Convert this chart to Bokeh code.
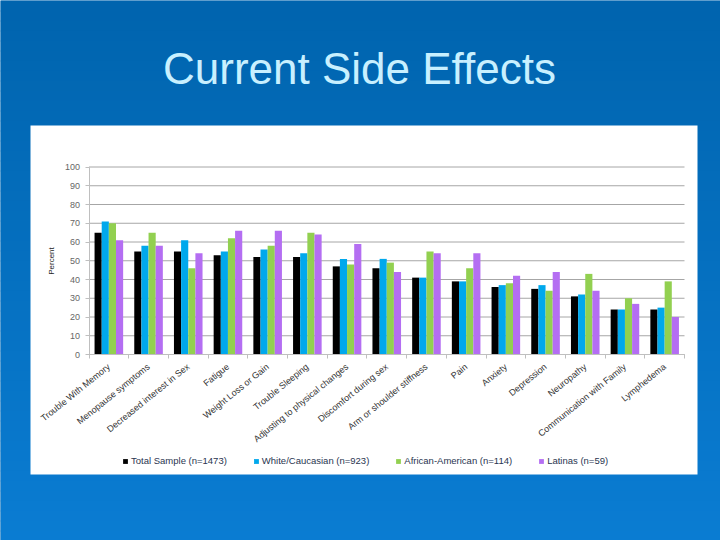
from bokeh.plotting import figure
from bokeh.models import (Range1d, FixedTicker, Label, Legend, LegendItem,
                          ColumnDataSource, BoxAnnotation, LinearAxis)
from bokeh.embed import file_html
from bokeh.resources import INLINE

# ---------------- data ----------------
categories = [
    "Trouble With Memory", "Menopause symptoms", "Decreased interest in Sex",
    "Fatigue", "Weight Loss or Gain", "Trouble Sleeping",
    "Adjusting to physical changes", "Discomfort during sex",
    "Arm or shoulder stiffness", "Pain", "Anxiety", "Depression",
    "Neuropathy", "Communication with Family", "Lymphedema",
]
total_sample = [65, 55, 55, 53, 52, 52, 47, 46, 41, 39, 36, 35, 31, 24, 24]
white_caucasian = [71, 58, 61, 55, 56, 54, 51, 51, 41, 39, 37, 37, 32, 24, 25]
african_american = [70, 65, 46, 62, 58, 65, 48, 49, 55, 46, 38, 34, 43, 30, 39]
latinas = [61, 58, 54, 66, 66, 64, 59, 44, 54, 54, 42, 44, 34, 27, 20]
series_names = ["Total Sample (n=1473)", "White/Caucasian (n=923)",
                "African-American (n=114)", "Latinas (n=59)"]
y_ticks = [0, 10, 20, 30, 40, 50, 60, 70, 80, 90, 100]
title_text = "Current Side Effects"
y_label = "Percent"

# ---------------- styling / layout ----------------
colors = ["#000000", "#00a8ec", "#92d050", "#b46ef2"]
FONT = "Liberation Sans"
W, H = 720, 540
FL, FR, FT, FB = 88.5, 684.0, 166.5, 354.0     # plot area (pixels on the slide)
NCAT = len(categories)

def dx(px):   # slide pixel -> x data
    return 0.5 + (px - FL) * NCAT / (FR - FL)

def dy(py):   # slide pixel -> y data
    return (FB - py) * 100.0 / (FB - FT)

p = figure(width=W, height=H, output_backend="svg", toolbar_location=None,
           x_range=Range1d(dx(0), dx(W)), y_range=Range1d(dy(H), dy(0)),
           x_axis_type=None, y_axis_type=None,
           min_border_left=0, min_border_right=0, min_border_top=0, min_border_bottom=0)
p.outline_line_color = None
p.border_fill_color = "#0066b0"
p.background_fill_color = "#0066b0"
p.grid.visible = False

# slide background gradient
N = 54
c0 = (0x00, 0x64, 0xae)
c1 = (0x0a, 0x7c, 0xd2)
for i in range(N):
    t = i / (N - 1)
    col = "#%02x%02x%02x" % tuple(int(round(a + (b - a) * t)) for a, b in zip(c0, c1))
    p.add_layout(BoxAnnotation(top=dy(i * H / N), bottom=dy((i + 1) * H / N + 1),
                               fill_color=col, fill_alpha=1, line_color=None,
                               level="image"))

# white chart panel
p.add_layout(BoxAnnotation(left=dx(30), right=dx(697), top=dy(125), bottom=dy(474),
                           fill_color="white", fill_alpha=1, line_color=None,
                           level="image"))

# slide title
p.add_layout(Label(x=dx(359), y=dy(68), text=title_text, text_align="center",
                   text_baseline="alphabetic", text_font=FONT,
                   text_font_size="44px", text_color="#c8f0ff"))

positions = list(range(1, NCAT + 1))

# horizontal gridlines
p.segment(x0=[0.5] * len(y_ticks), x1=[NCAT + 0.5] * len(y_ticks), y0=y_ticks, y1=y_ticks,
          line_color="#a6a6a6", line_width=1, level="underlay")

# bars
bar_w = 0.18
offsets = [-1.5 * bar_w, -0.5 * bar_w, 0.5 * bar_w, 1.5 * bar_w]
series = [total_sample, white_caucasian, african_american, latinas]
renderers = []
for vals, off, col in zip(series, offsets, colors):
    src = ColumnDataSource(dict(x=[pp + off for pp in positions], top=vals))
    r = p.vbar(x="x", top="top", width=bar_w, bottom=0, source=src,
               fill_color=col, line_color=None)
    renderers.append(r)

# axes
xa = LinearAxis(fixed_location=0, bounds=(0.5, NCAT + 0.5))
xa.ticker = FixedTicker(ticks=positions,
                        minor_ticks=[pp - 0.5 for pp in positions] + [NCAT + 0.5])
xa.major_label_overrides = {pp: c for pp, c in zip(positions, categories)}
xa.major_label_orientation = 0.68
xa.major_tick_in = 0
xa.major_tick_out = 0
xa.minor_tick_in = 0
xa.minor_tick_out = 4
xa.minor_tick_line_color = "#bfbfbf"
xa.axis_line_color = "#bfbfbf"
xa.major_label_text_font = FONT
xa.major_label_text_font_size = "9px"
xa.major_label_text_color = "#333333"
xa.major_label_standoff = 7
p.add_layout(xa, "below")

ya = LinearAxis(fixed_location=0.5, bounds=(0, 100))
ya.ticker = FixedTicker(ticks=y_ticks)
ya.axis_line_color = "#bfbfbf"
ya.major_tick_line_color = "#bfbfbf"
ya.major_tick_in = 0
ya.major_tick_out = 4
ya.minor_tick_line_color = None
ya.major_label_text_font = FONT
ya.major_label_text_font_size = "9px"
ya.major_label_text_color = "#666666"
ya.major_label_standoff = 5
ya.axis_label = y_label
ya.axis_label_text_font = FONT
ya.axis_label_text_font_size = "8px"
ya.axis_label_text_font_style = "normal"
ya.axis_label_text_color = "#222222"
ya.axis_label_standoff = 6
p.add_layout(ya, "left")

legend = Legend(items=[LegendItem(label=n, renderers=[r]) for n, r in zip(series_names, renderers)],
                location=(122, H - 466), orientation="horizontal",
                glyph_width=6, glyph_height=6, label_height=10,
                label_text_font=FONT, label_text_font_size="9.5px",
                label_text_color="#2a3550", label_standoff=3, spacing=26,
                padding=0, margin=0, border_line_color=None,
                background_fill_alpha=0)
p.add_layout(legend)

open("out.html", "w").write(file_html(p, INLINE))
